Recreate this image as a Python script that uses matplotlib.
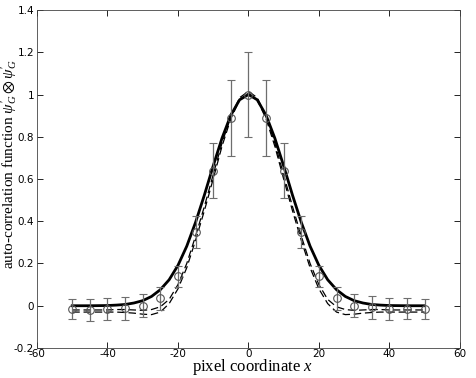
import numpy as np
import matplotlib
matplotlib.use("Agg")
import matplotlib.pyplot as plt

# ========================================================================
#                           Data
# ========================================================================
# measured points with error bars
x_pts = [-50, -45, -40, -35, -30, -25, -20, -15, -10, -5, 0,
         5, 10, 15, 20, 25, 30, 35, 40, 45, 50]
y_pts = [-0.015, -0.02, -0.015, -0.012, 0.0, 0.035, 0.14, 0.35, 0.64, 0.89, 1.0,
         0.89, 0.64, 0.35, 0.14, 0.035, 0.0, -0.008, -0.015, -0.015, -0.015]
y_err = [0.048, 0.05, 0.052, 0.055, 0.055, 0.055, 0.05, 0.075, 0.13, 0.18, 0.2,
         0.18, 0.13, 0.075, 0.05, 0.055, 0.055, 0.055, 0.052, 0.05, 0.048]

# curves, sampled every 2.5 pixels from 0 to 50 (symmetric)
x_half = [0, 2.5, 5, 7.5, 10, 12.5, 15, 17.5, 20, 22.5, 25,
          27.5, 30, 32.5, 35, 37.5, 40, 42.5, 45, 47.5, 50]
thick_half = [1.0, 0.975, 0.902, 0.793, 0.662, 0.524, 0.395, 0.282, 0.191, 0.123, 0.076,
              0.044, 0.024, 0.013, 0.006, 0.003, 0.001, 0.0005, 0.0, 0.0, 0.0]
dashA_half = [1.015, 0.985, 0.895, 0.77, 0.62, 0.47, 0.33, 0.2, 0.1, 0.03, -0.005,
              -0.018, -0.022, -0.02, -0.018, -0.018, -0.02, -0.02, -0.02, -0.02, -0.02]
dashB_half = [1.005, 0.975, 0.885, 0.755, 0.6, 0.45, 0.31, 0.18, 0.08, 0.01, -0.03,
              -0.042, -0.04, -0.035, -0.032, -0.03, -0.03, -0.03, -0.03, -0.03, -0.03]


def mirror(xs, ys):
    xs = np.asarray(xs)
    ys = np.asarray(ys)
    return np.concatenate([-xs[:0:-1], xs]), np.concatenate([ys[:0:-1], ys])


# ========================================================================
#                           Plot
# ========================================================================
plt.rcParams["mathtext.fontset"] = "custom"
plt.rcParams["mathtext.rm"] = "Liberation Serif"
plt.rcParams["mathtext.it"] = "Liberation Serif:italic"
plt.rcParams["mathtext.fallback"] = "stix"

W, H = 477, 378
fig = plt.figure(figsize=(W / 100, H / 100), dpi=100)
ax = fig.add_axes([0.0776, 0.0794, 0.8864, 0.8941])

xa, ya = mirror(x_half, dashA_half)
ax.plot(xa, ya, color="black", lw=0.9, ls=(0, (6, 3)))
xb, yb = mirror(x_half, dashB_half)
ax.plot(xb, yb, color="black", lw=0.9, ls=(0, (6, 3)))
xt, yt = mirror(x_half, thick_half)
ax.plot(xt, yt, color="black", lw=2.0)

ax.errorbar(x_pts, y_pts, yerr=y_err, fmt="o", color="#6e6e6e",
            mfc="none", mec="#555555", ms=5.5, mew=0.8,
            elinewidth=0.9, capsize=3, capthick=0.9)

ax.set_xlim(-60, 60)
ax.set_ylim(-0.2, 1.4)
ax.set_xticks([-60, -40, -20, 0, 20, 40, 60])
ax.set_yticks([-0.2, 0, 0.2, 0.4, 0.6, 0.8, 1, 1.2, 1.4])
ax.set_yticklabels(["-0.2", "0", "0.2", "0.4", "0.6", "0.8", "1", "1.2", "1.4"])
ax.set_xticklabels(["-60", "-40", "-20", "0", "20", "40", "60"])
ax.tick_params(direction="in", top=True, right=True, labelsize=7.5,
               length=4, width=0.6)
ax.tick_params(axis="x", pad=0.5)
ax.tick_params(axis="y", pad=2)
for s in ax.spines.values():
    s.set_linewidth(0.6)
    s.set_color("#444444")

# axis labels placed by hand (baseline positions)
fig.text(252 / W, 1 - 371 / H, "pixel coordinate $x$", family="Liberation Serif",
         fontsize=12, ha="center", va="baseline")
fig.text(13.6 / W, 1 - 164 / H,
         r"auto-correlation function $\psi^{\prime}_G \otimes \psi^{\prime}_G$",
         family="Liberation Serif", fontsize=11, rotation=90,
         rotation_mode="anchor", ha="center", va="baseline")

plt.savefig("out.png", dpi=100)
